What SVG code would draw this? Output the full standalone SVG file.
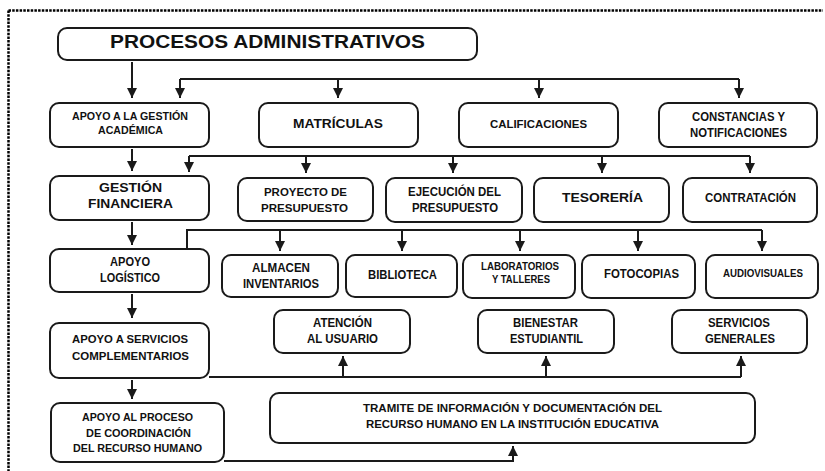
<svg xmlns="http://www.w3.org/2000/svg" width="825" height="471" viewBox="0 0 825 471">
<defs>
<marker id="ah" markerUnits="userSpaceOnUse" markerWidth="10" markerHeight="10" refX="10" refY="5" orient="auto">
<path d="M0,0 L10,5 L0,10 z" fill="#1a1a1a"/>
</marker>
<style>
.box{fill:#fff;stroke:#1a1a1a;stroke-width:2}
.t{font-family:"Liberation Sans",Arial,sans-serif;font-weight:bold;fill:#111;text-anchor:middle}
.c{fill:none;stroke:#1a1a1a;stroke-width:2}
.a{fill:none;stroke:#1a1a1a;stroke-width:2;marker-end:url(#ah)}
.brd{fill:none;stroke:#000;stroke-width:2.5;stroke-dasharray:2.5 1.2}
</style>
</defs>
<rect width="825" height="471" fill="#fff"/>
<path class="brd" d="M8.5,10.5 H823 M8.5,10.5 V471"/>

<g id="connectors">
<path class="a" d="M132,62 V98"/>
<path class="c" d="M180,79 H739"/>
<path class="a" d="M180,79 V98"/>
<path class="a" d="M338,79 V98"/>
<path class="a" d="M539,79 V98"/>
<path class="a" d="M739,79 V98"/>
<path class="a" d="M132,149 V171"/>
<path class="c" d="M189,156 H750"/>
<path class="a" d="M189,156 V172"/>
<path class="a" d="M306,156 V173"/>
<path class="a" d="M453,156 V173"/>
<path class="a" d="M602,156 V173"/>
<path class="a" d="M750,156 V173"/>
<path class="a" d="M132,222 V245"/>
<path class="c" d="M187,249 V230 H762"/>
<path class="a" d="M280,230 V251"/>
<path class="a" d="M402,230 V251"/>
<path class="a" d="M520,230 V251"/>
<path class="a" d="M638,230 V251"/>
<path class="a" d="M762,230 V251"/>
<path class="a" d="M132,294 V318"/>
<path class="c" d="M209,377 H741"/>
<path class="a" d="M343,377 V356"/>
<path class="a" d="M546,377 V356"/>
<path class="a" d="M741,377 V356"/>
<path class="a" d="M132,380 V399"/>
<path class="a" d="M224,461 H513 V446"/>
</g>

<g id="n-procesos">
<rect class="box" x="58" y="28" width="419" height="32" rx="9"/>
<text class="t" x="267.5" y="48" font-size="18" textLength="315" lengthAdjust="spacingAndGlyphs">PROCESOS ADMINISTRATIVOS</text>
</g>
<g id="n-academica">
<rect class="box" x="50" y="103" width="159" height="44" rx="9"/>
<text class="t" x="130" y="120" font-size="11.5" textLength="116" lengthAdjust="spacingAndGlyphs">APOYO A LA GESTIÓN</text>
<text class="t" x="130.5" y="134" font-size="11.5" textLength="65" lengthAdjust="spacingAndGlyphs">ACADÉMICA</text>
</g>
<g id="n-matriculas">
<rect class="box" x="259" y="103" width="159" height="44" rx="9"/>
<text class="t" x="338" y="128" font-size="13" textLength="90" lengthAdjust="spacingAndGlyphs">MATRÍCULAS</text>
</g>
<g id="n-calificaciones">
<rect class="box" x="459" y="103" width="159" height="44" rx="9"/>
<text class="t" x="538.5" y="128" font-size="11.6" textLength="97" lengthAdjust="spacingAndGlyphs">CALIFICACIONES</text>
</g>
<g id="n-constancias">
<rect class="box" x="659" y="103" width="158" height="44" rx="9"/>
<text class="t" x="738.5" y="121" font-size="12" textLength="93" lengthAdjust="spacingAndGlyphs">CONSTANCIAS Y</text>
<text class="t" x="738.5" y="137" font-size="12" textLength="97" lengthAdjust="spacingAndGlyphs">NOTIFICACIONES</text>
</g>
<g id="n-gestion">
<rect class="box" x="50" y="176" width="159" height="44" rx="9"/>
<text class="t" x="130.5" y="192" font-size="13.5" textLength="63" lengthAdjust="spacingAndGlyphs">GESTIÓN</text>
<text class="t" x="130.5" y="208" font-size="13.5" textLength="85" lengthAdjust="spacingAndGlyphs">FINANCIERA</text>
</g>
<g id="n-proyecto">
<rect class="box" x="238" y="178" width="135" height="43" rx="9"/>
<text class="t" x="305.5" y="196" font-size="11.8" textLength="83" lengthAdjust="spacingAndGlyphs">PROYECTO DE</text>
<text class="t" x="304.5" y="212" font-size="11.8" textLength="87" lengthAdjust="spacingAndGlyphs">PRESUPUESTO</text>
</g>
<g id="n-ejecucion">
<rect class="box" x="386" y="178" width="136" height="44" rx="9"/>
<text class="t" x="454.5" y="196" font-size="12" textLength="93" lengthAdjust="spacingAndGlyphs">EJECUCIÓN DEL</text>
<text class="t" x="455" y="212" font-size="12" textLength="86" lengthAdjust="spacingAndGlyphs">PRESUPUESTO</text>
</g>
<g id="n-tesoreria">
<rect class="box" x="534" y="178" width="135" height="44" rx="9"/>
<text class="t" x="602.5" y="202" font-size="13.5" textLength="81" lengthAdjust="spacingAndGlyphs">TESORERÍA</text>
</g>
<g id="n-contratacion">
<rect class="box" x="683" y="178" width="134" height="44" rx="9"/>
<text class="t" x="750.5" y="202" font-size="12.5" textLength="91" lengthAdjust="spacingAndGlyphs">CONTRATACIÓN</text>
</g>
<g id="n-logistico">
<rect class="box" x="50" y="249" width="159" height="43" rx="9"/>
<text class="t" x="130" y="266" font-size="12" textLength="40" lengthAdjust="spacingAndGlyphs">APOYO</text>
<text class="t" x="130" y="282" font-size="12" textLength="60" lengthAdjust="spacingAndGlyphs">LOGÍSTICO</text>
</g>
<g id="n-almacen">
<rect class="box" x="222" y="255" width="116" height="42" rx="9"/>
<text class="t" x="281" y="272" font-size="12" textLength="58" lengthAdjust="spacingAndGlyphs">ALMACEN</text>
<text class="t" x="281" y="288" font-size="12" textLength="76" lengthAdjust="spacingAndGlyphs">INVENTARIOS</text>
</g>
<g id="n-biblioteca">
<rect class="box" x="346" y="255" width="111" height="42" rx="9"/>
<text class="t" x="402.5" y="279" font-size="13" textLength="69" lengthAdjust="spacingAndGlyphs">BIBLIOTECA</text>
</g>
<g id="n-laboratorios">
<rect class="box" x="463" y="255" width="112" height="43" rx="9"/>
<text class="t" x="520" y="270" font-size="10" textLength="78" lengthAdjust="spacingAndGlyphs">LABORATORIOS</text>
<text class="t" x="521" y="283" font-size="10" textLength="58" lengthAdjust="spacingAndGlyphs">Y TALLERES</text>
</g>
<g id="n-fotocopias">
<rect class="box" x="582" y="255" width="113" height="43" rx="9"/>
<text class="t" x="641.5" y="278" font-size="12.5" textLength="75" lengthAdjust="spacingAndGlyphs">FOTOCOPIAS</text>
</g>
<g id="n-audiovisuales">
<rect class="box" x="706" y="255" width="112" height="43" rx="9"/>
<text class="t" x="763" y="277" font-size="10.5" textLength="80" lengthAdjust="spacingAndGlyphs">AUDIOVISUALES</text>
</g>
<g id="n-complementarios">
<rect class="box" x="50" y="323" width="159" height="55" rx="9"/>
<text class="t" x="130" y="343" font-size="11.5" textLength="116" lengthAdjust="spacingAndGlyphs">APOYO A SERVICIOS</text>
<text class="t" x="130.5" y="360" font-size="11.5" textLength="117" lengthAdjust="spacingAndGlyphs">COMPLEMENTARIOS</text>
</g>
<g id="n-atencion">
<rect class="box" x="274" y="310" width="136" height="43" rx="9"/>
<text class="t" x="342.5" y="327" font-size="12" textLength="59" lengthAdjust="spacingAndGlyphs">ATENCIÓN</text>
<text class="t" x="342.5" y="343" font-size="12" textLength="71" lengthAdjust="spacingAndGlyphs">AL USUARIO</text>
</g>
<g id="n-bienestar">
<rect class="box" x="478" y="310" width="136" height="43" rx="9"/>
<text class="t" x="545.5" y="327" font-size="12" textLength="65" lengthAdjust="spacingAndGlyphs">BIENESTAR</text>
<text class="t" x="546.5" y="343" font-size="12" textLength="73" lengthAdjust="spacingAndGlyphs">ESTUDIANTIL</text>
</g>
<g id="n-servicios">
<rect class="box" x="672" y="310" width="135" height="43" rx="9"/>
<text class="t" x="739" y="327" font-size="12" textLength="62" lengthAdjust="spacingAndGlyphs">SERVICIOS</text>
<text class="t" x="740" y="343" font-size="12" textLength="70" lengthAdjust="spacingAndGlyphs">GENERALES</text>
</g>
<g id="n-coordinacion">
<rect class="box" x="51" y="403" width="173" height="59" rx="9"/>
<text class="t" x="137.5" y="421" font-size="11" textLength="111" lengthAdjust="spacingAndGlyphs">APOYO AL PROCESO</text>
<text class="t" x="138.5" y="437" font-size="11" textLength="105" lengthAdjust="spacingAndGlyphs">DE COORDINACIÓN</text>
<text class="t" x="137.5" y="452" font-size="11" textLength="129" lengthAdjust="spacingAndGlyphs">DEL RECURSO HUMANO</text>
</g>
<g id="n-tramite">
<rect class="box" x="270" y="393" width="485" height="50" rx="9"/>
<text class="t" x="512.5" y="412" font-size="10.5" textLength="299" lengthAdjust="spacingAndGlyphs">TRAMITE DE INFORMACIÓN Y DOCUMENTACIÓN DEL</text>
<text class="t" x="512.5" y="428" font-size="10.5" textLength="293" lengthAdjust="spacingAndGlyphs">RECURSO HUMANO EN LA INSTITUCIÓN EDUCATIVA</text>
</g>
</svg>
